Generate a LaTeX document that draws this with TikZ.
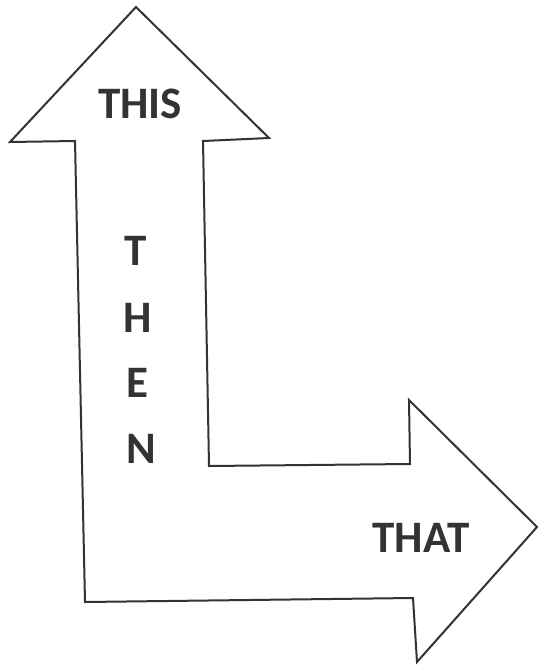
\documentclass[tikz,border=0pt]{standalone}
\usepackage{fontspec}
\setmainfont{Carlito}
\definecolor{ink}{HTML}{333333}
\begin{document}
\begin{tikzpicture}[x=1pt,y=-1pt,
  outline/.style={draw=ink,line width=2pt,line join=miter},
  lbl/.style={text=ink,font=\bfseries\fontsize{45}{45}\selectfont,inner sep=0pt,anchor=base}]
\useasboundingbox (0,0) rectangle (539,666);
\draw[outline]
  (136,7) -- (269,138) -- (203,141) -- (209,466) -- (410,464)
  -- (409,400) -- (537,527) -- (417,662) -- (413,598)
  -- (85,602) -- (75,141) -- (10,142) -- cycle;
\node[lbl] (this) at (140,118) {THIS};
\node[lbl] (t) at (136,265) {T};
\node[lbl] (h) at (138,332) {H};
\node[lbl] (e) at (137,397) {E};
\node[lbl] (n) at (141,463) {N};
\node[lbl] (that) at (421,552) {THAT};
\end{tikzpicture}
\end{document}
